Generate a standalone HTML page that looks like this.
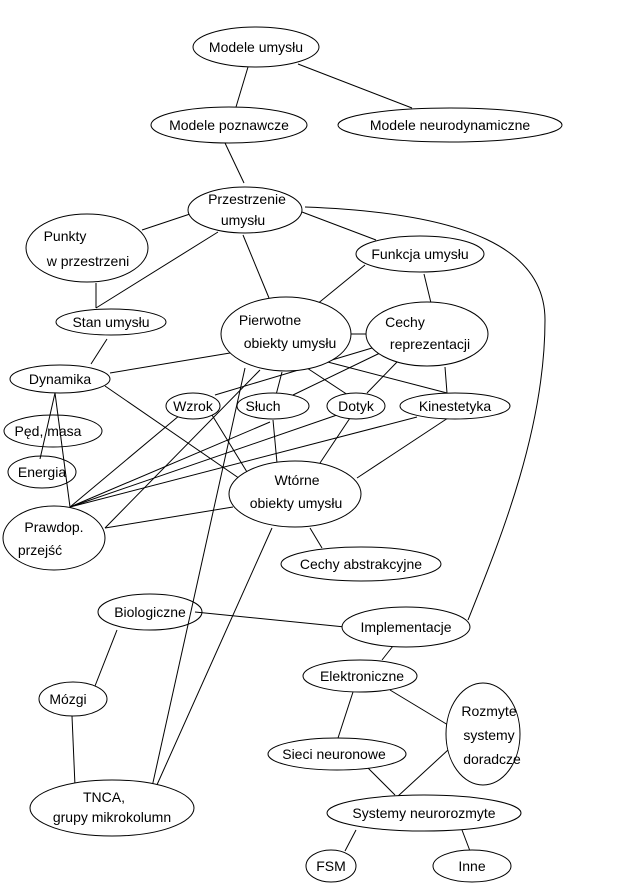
<!DOCTYPE html>
<html><head><meta charset="utf-8"><style>
body{margin:0;background:#fff}
svg{display:block}
text{font-family:"Liberation Sans",sans-serif;font-size:14px;fill:#000;text-anchor:middle}
ellipse{fill:#fff;stroke:#000;stroke-width:1}
ellipse.t{fill:none}
line,path{stroke:#000;stroke-width:1;fill:none}
</style></head><body>
<svg width="622" height="885" viewBox="0 0 622 885">
<g>
<line x1="248" y1="67" x2="236" y2="107"/>
<line x1="298" y1="64" x2="412" y2="108"/>
<line x1="225" y1="143" x2="244" y2="183"/>
<line x1="190" y1="214" x2="142" y2="230"/>
<line x1="218" y1="232" x2="96" y2="308"/>
<line x1="96" y1="283" x2="96" y2="308"/>
<line x1="243" y1="235" x2="269" y2="298"/>
<line x1="302" y1="212" x2="376" y2="240"/>
<path d="M305,207 C470,213 545,250 545,320 C545,430 500,540 468,620"/>
<line x1="365" y1="265" x2="316" y2="305"/>
<line x1="424" y1="274" x2="431" y2="303"/>
<line x1="351" y1="334" x2="367" y2="334"/>
<line x1="107" y1="339" x2="91" y2="364"/>
<line x1="230" y1="353" x2="110" y2="373"/>
<line x1="105" y1="386" x2="246" y2="483"/>
<line x1="245" y1="368" x2="152" y2="787"/>
<line x1="260" y1="370" x2="105" y2="528"/>
<line x1="372" y1="348" x2="215" y2="395"/>
<line x1="320" y1="360" x2="447" y2="393"/>
<line x1="307" y1="368" x2="348" y2="395"/>
<line x1="282" y1="372" x2="276" y2="395"/>
<line x1="380" y1="353" x2="293" y2="395"/>
<line x1="397" y1="362" x2="367" y2="393"/>
<line x1="445" y1="367" x2="447" y2="393"/>
<line x1="180" y1="415" x2="70" y2="507"/>
<line x1="212" y1="415" x2="247" y2="472"/>
<line x1="273" y1="420" x2="277" y2="463"/>
<line x1="270" y1="422" x2="70" y2="507"/>
<line x1="337" y1="415" x2="70" y2="507"/>
<line x1="350" y1="418" x2="320" y2="463"/>
<line x1="417" y1="417" x2="70" y2="507"/>
<line x1="448" y1="418" x2="357" y2="478"/>
<line x1="233" y1="507" x2="105" y2="528"/>
<line x1="310" y1="528" x2="322" y2="548"/>
<line x1="272" y1="528" x2="156" y2="787"/>
<line x1="195" y1="612" x2="345" y2="627"/>
<line x1="117" y1="630" x2="95" y2="686"/>
<line x1="72" y1="716" x2="75" y2="786"/>
<line x1="393" y1="646" x2="382" y2="660"/>
<line x1="353" y1="692" x2="338" y2="738"/>
<line x1="390" y1="690" x2="448" y2="725"/>
<line x1="368" y1="768" x2="395" y2="795"/>
<line x1="448" y1="750" x2="397" y2="797"/>
<line x1="356" y1="830" x2="345" y2="851"/>
<line x1="462" y1="830" x2="470" y2="851"/>
<line x1="55" y1="393" x2="40" y2="459"/>
<line x1="55" y1="393" x2="70" y2="507"/>
</g>
<ellipse cx="256" cy="47" rx="63" ry="20"/><text x="256" y="52">Modele umysłu</text>
<ellipse cx="229" cy="125" rx="78" ry="18"/><text x="229" y="130">Modele poznawcze</text>
<ellipse cx="450" cy="125" rx="112" ry="17"/><text x="450" y="130">Modele neurodynamiczne</text>
<ellipse cx="245" cy="210" rx="57" ry="23"/><text x="247" y="204">Przestrzenie</text><text x="243" y="225">umysłu</text>
<ellipse cx="87" cy="248" rx="61" ry="34"/><text x="65" y="241">Punkty</text><text x="88" y="266">w przestrzeni</text>
<ellipse cx="420" cy="254" rx="64" ry="18"/><text x="420" y="259">Funkcja umysłu</text>
<ellipse cx="111" cy="322" rx="55" ry="13"/><text x="111" y="327">Stan umysłu</text>
<ellipse cx="286" cy="334" rx="65" ry="37"/><text x="270" y="325">Pierwotne</text><text x="290" y="348">obiekty umysłu</text>
<ellipse cx="427" cy="334" rx="61" ry="32"/><text x="405" y="327">Cechy</text><text x="430" y="349">reprezentacji</text>
<ellipse cx="60" cy="379" rx="50" ry="14"/><text x="60" y="384">Dynamika</text>
<ellipse cx="193" cy="406" rx="27" ry="13"/><text x="193" y="411">Wzrok</text>
<ellipse cx="273" cy="406" rx="36" ry="13"/><text x="263" y="411">Słuch</text>
<ellipse cx="356" cy="406" rx="29" ry="13"/><text x="356" y="411">Dotyk</text>
<ellipse cx="455" cy="406" rx="55" ry="13"/><text x="455" y="411">Kinestetyka</text>
<ellipse class="t" cx="53" cy="431" rx="49" ry="16"/><text x="48" y="436">Pęd, masa</text>
<ellipse class="t" cx="42" cy="472" rx="34" ry="16"/><text x="42" y="477">Energia</text>
<ellipse cx="295" cy="494" rx="66" ry="33"/><text x="297" y="485">Wtórne</text><text x="296" y="508">obiekty umysłu</text>
<ellipse cx="54" cy="538" rx="51" ry="32"/><text x="54" y="532">Prawdop.</text><text x="40" y="555">przejść</text>
<ellipse cx="361" cy="564" rx="80" ry="17"/><text x="361" y="569">Cechy abstrakcyjne</text>
<ellipse class="t" cx="150" cy="612" rx="52" ry="18"/><text x="150" y="617">Biologiczne</text>
<ellipse cx="406" cy="627" rx="64" ry="20"/><text x="406" y="632">Implementacje</text>
<ellipse cx="360" cy="676" rx="57" ry="16"/><text x="362" y="681">Elektroniczne</text>
<ellipse cx="73" cy="699" rx="34" ry="17"/><text x="68" y="704">Mózgi</text>
<ellipse cx="483" cy="734" rx="37" ry="51"/><text x="489" y="716">Rozmyte</text><text x="489" y="740">systemy</text><text x="492" y="764">doradcze</text>
<ellipse cx="337" cy="754" rx="69" ry="16"/><text x="334" y="759">Sieci neuronowe</text>
<ellipse cx="112" cy="808" rx="82" ry="28"/><text x="104" y="802">TNCA,</text><text x="112" y="822">grupy mikrokolumn</text>
<ellipse cx="424" cy="813" rx="97" ry="18"/><text x="424" y="818">Systemy neurorozmyte</text>
<ellipse cx="331" cy="866" rx="25" ry="16"/><text x="331" y="871">FSM</text>
<ellipse cx="472" cy="866" rx="39" ry="16"/><text x="472" y="871">Inne</text>
</svg>
</body></html>
